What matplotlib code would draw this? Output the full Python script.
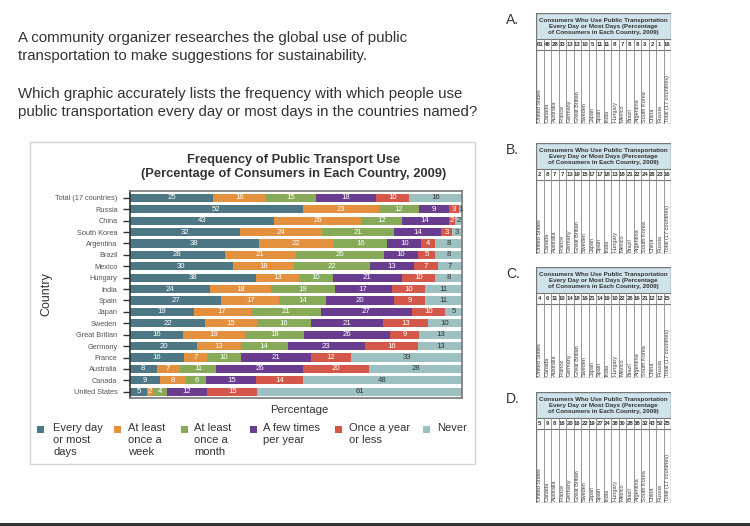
import matplotlib
matplotlib.use('Agg')
import matplotlib.pyplot as plt
from matplotlib.patches import Rectangle
import numpy as np

plt.rcParams['font.family'] = ['Liberation Sans', 'DejaVu Sans']

# ---------------- data ----------------
countries = ["Total (17 countries)", "Russia", "China", "South Korea", "Argentina",
             "Brazil", "Mexico", "Hungary", "India", "Spain", "Japan", "Sweden",
             "Great Britian", "Germany", "France", "Australia", "Canada", "United States"]
every_day = [25, 52, 43, 32, 38, 28, 30, 38, 24, 27, 19, 22, 16, 20, 16, 8, 9, 5]
once_week = [16, 23, 26, 24, 22, 21, 18, 13, 18, 17, 17, 15, 19, 13, 7, 7, 8, 2]
once_month = [15, 12, 12, 21, 16, 26, 22, 10, 19, 14, 21, 16, 18, 14, 10, 11, 6, 4]
few_times = [18, 9, 14, 14, 10, 10, 13, 21, 17, 20, 27, 21, 26, 23, 21, 26, 15, 12]
once_year = [10, 3, 2, 3, 4, 5, 7, 10, 10, 9, 10, 13, 9, 16, 12, 20, 14, 15]
never = [16, 1, 2, 3, 8, 8, 7, 8, 11, 11, 5, 10, 13, 13, 33, 28, 48, 61]

series_labels = ["Every day\nor most\ndays", "At least\nonce a\nweek", "At least\nonce a\nmonth",
                 "A few times\nper year", "Once a year\nor less", "Never"]
series_colors = ["#4d7785", "#e3903f", "#87aa58", "#6a3c8f", "#d4584a", "#9dc1c0"]

question1 = "A community organizer researches the global use of public\ntransportation to make suggestions for sustainability."
question2 = "Which graphic accurately lists the frequency with which people use\npublic transportation every day or most days in the countries named?"
chart_title = "Frequency of Public Transport Use\n(Percentage of Consumers in Each Country, 2009)"
table_title = "Consumers Who Use Public Transportation\nEvery Day or Most Days (Percentage\nof Consumers in Each Country, 2009)"
options = [("A.", never), ("B.", once_week), ("C.", once_month), ("D.", every_day)]

# ---------------- figure ----------------
W, H = 750, 526
fig = plt.figure(figsize=(W / 100, H / 100), dpi=100)
fig.patch.set_facecolor('white')

def fx(x):
    return x / W

def fy(y):
    return 1 - y / H

TXT = '#333333'

# question text
fig.text(fx(18), fy(47), question1, fontsize=10.8, color=TXT, va='center', ha='left', linespacing=1.28)
fig.text(fx(18), fy(103), question2, fontsize=10.8, color=TXT, va='center', ha='left', linespacing=1.28)

# panel box
fig.patches.append(Rectangle((fx(30), fy(464)), 445 / W, 322 / H, transform=fig.transFigure,
                             fill=False, ec='#d2d2d2', lw=1))
# bottom dark line
fig.patches.append(Rectangle((0, 0), 1, 3 / H, transform=fig.transFigure, fc='#333333', ec='none'))

# ---------------- main chart ----------------
ax = fig.add_axes([fx(130), fy(398), (462 - 130) / W, (398 - 191) / H])
data = np.array([every_day, once_week, once_month, few_times, once_year, never], dtype=float)
totals = data.sum(axis=0)
norm = data / totals * 100
y = np.arange(len(countries))
left = np.zeros(len(countries))
for k in range(data.shape[0]):
    ax.barh(y, norm[k], left=left, height=0.72, color=series_colors[k], edgecolor='none')
    for i in range(len(countries)):
        ax.text(left[i] + norm[k][i] / 2, y[i], f"{int(data[k][i])}", ha='center', va='center',
                fontsize=5.6, color=('#333333' if k == 5 else 'white'))
    left += norm[k]

ax.set_xlim(0, 100)
ax.set_ylim(len(countries) - 0.45, -0.6)
ax.set_yticks(y)
ax.set_yticklabels(countries, fontsize=5.3, color='#555555')
ax.set_xticks([])
ax.tick_params(axis='y', length=5, width=1, color='#333333', pad=4)
for s in ['top', 'right', 'bottom']:
    ax.spines[s].set_color('#777777')
    ax.spines[s].set_linewidth(1.2)
ax.spines['left'].set_color('#333333')
ax.spines['left'].set_linewidth(1.2)

fig.text(fx(294), fy(167), chart_title, fontsize=9.3, fontweight='bold', color=TXT,
         ha='center', va='center', linespacing=1.2)
fig.text(fx(46), fy(294), "Country", fontsize=9, color=TXT, rotation=90, ha='center', va='center')
fig.text(fx(299), fy(410), "Percentage", fontsize=8.2, color=TXT, ha='center', va='center')

# legend
sq_x = [37, 114, 181, 250, 335, 423]
tx_x = [53, 128, 194, 263, 349, 437]
for k in range(6):
    fig.patches.append(Rectangle((fx(sq_x[k]), fy(433)), 7 / W, 7 / H, transform=fig.transFigure,
                                 fc=series_colors[k], ec='none'))
    fig.text(fx(tx_x[k]), fy(423), series_labels[k], fontsize=8, color=TXT, ha='left', va='top',
             linespacing=1.25)

# ---------------- option tables ----------------
tops = [13, 143, 267, 392]
TW, TH = 135, 111
HH, NH = 26, 11
n = len(countries)
cw = TW / n
for (lab, vals), top in zip(options, tops):
    fig.text(fx(506), fy(top + 7), lab, fontsize=10, color=TXT, ha='left', va='center')
    tax = fig.add_axes([fx(536), fy(top + TH), TW / W, TH / H])
    tax.set_xlim(0, TW)
    tax.set_ylim(TH, 0)
    tax.axis('off')
    tax.add_patch(Rectangle((0, 0), TW, HH, fc='#cfe3ea', ec='none'))
    tax.add_patch(Rectangle((0, 0), TW, TH, fill=False, ec='#777777', lw=1.0))
    tax.plot([0, TW], [HH, HH], color='#777777', lw=0.8)
    tax.plot([0, TW], [HH + NH, HH + NH], color='#777777', lw=0.8)
    for i in range(1, n):
        tax.plot([i * cw, i * cw], [HH, TH], color='#888888', lw=0.6)
    tax.text(TW / 2, HH / 2 + 0.5, table_title, fontsize=4.5, fontweight='bold', color=TXT,
             ha='center', va='center', linespacing=1.15)
    rev_names = countries[::-1]
    rev_vals = list(vals)[::-1]
    for i in range(n):
        tax.text(i * cw + cw / 2, HH + NH / 2, f"{rev_vals[i]}", fontsize=4.3, fontweight='bold',
                 color=TXT, ha='center', va='center')
        tax.text(i * cw + cw / 2, TH - 2, rev_names[i], fontsize=4.0, color='#444444',
                 rotation=90, ha='center', va='bottom')

fig.savefig('out.png', dpi=100, facecolor='white')
